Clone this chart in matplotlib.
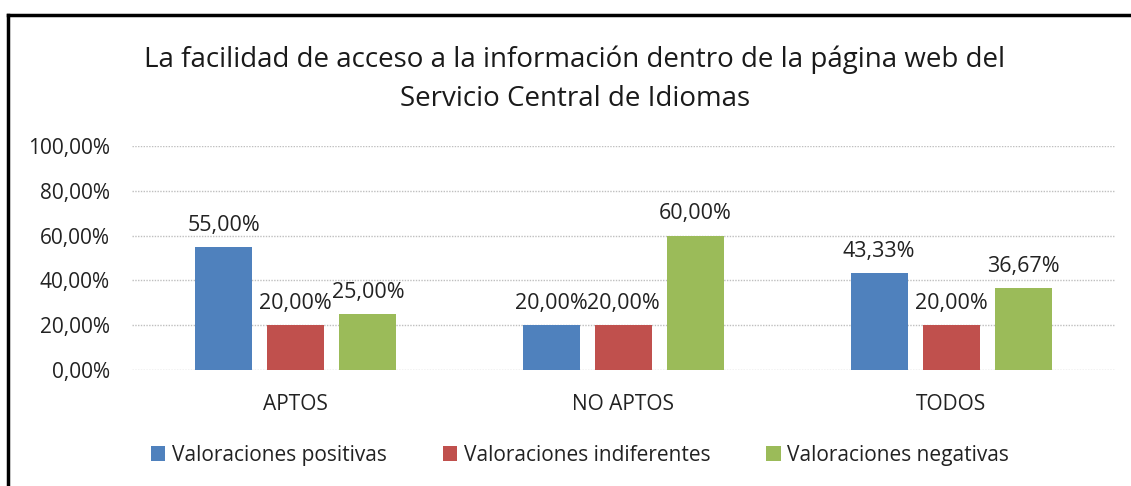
import numpy as np
import matplotlib.pyplot as plt
from matplotlib.lines import Line2D
from matplotlib.ticker import FuncFormatter

plt.rcParams['font.family'] = ['Open Sans', 'DejaVu Sans']

# Data
categorias = ['APTOS', 'NO APTOS', 'TODOS']
series = ['Valoraciones positivas', 'Valoraciones indiferentes', 'Valoraciones negativas']
positivas = [0.55, 0.20, 0.4333]
indiferentes = [0.20, 0.20, 0.20]
negativas = [0.25, 0.60, 0.3667]
colores = ['#4F81BD', '#C0504D', '#9BBB59']

titulo = 'La facilidad de acceso a la información dentro de la página web del\nServicio Central de Idiomas'

fig = plt.figure(figsize=(11.31, 4.86), dpi=100)
ax = fig.add_axes([132 / 1131, 1 - 370 / 486, (1115 - 132) / 1131, (370 - 146) / 486])

x = np.arange(len(categorias))
ancho = 0.174
paso = 0.22
valores = [positivas, indiferentes, negativas]

for i, (vals, col, nom) in enumerate(zip(valores, colores, series)):
    barras = ax.bar(x + (i - 1) * paso, vals, ancho, color=col, label=nom, zorder=2)
    for b, v in zip(barras, vals):
        etiqueta = f'{v * 100:.2f}%'.replace('.', ',')
        ax.annotate(etiqueta, (b.get_x() + b.get_width() / 2, v),
                    xytext=(0, 8), textcoords='offset points',
                    ha='center', va='bottom', fontsize=15.5, color='#222222')

ax.set_xlim(-0.5, 2.5)
ax.set_ylim(0, 1)
ax.set_yticks(np.arange(0, 1.01, 0.2))
ax.yaxis.set_major_formatter(FuncFormatter(lambda v, p: f'{v * 100:.2f}%'.replace('.', ',')))
ax.set_xticks(x)
ax.set_xticklabels(categorias)
ax.tick_params(length=0, labelsize=15, colors='#222222')
ax.tick_params(axis='y', pad=16)
ax.tick_params(axis='x', pad=17)
ax.grid(axis='y', color='#BFBFBF', linestyle=(0, (1, 1)), linewidth=1, zorder=0)
for s in ax.spines.values():
    s.set_visible(False)

fig.text(575 / 1131, 1 - 79 / 486, titulo, ha='center', va='center',
         fontsize=20, color='#1a1a1a', linespacing=1.5)

fig.legend(loc='center', bbox_to_anchor=(580 / 1131, 1 - 455 / 486), ncol=3,
           frameon=False, fontsize=15, handlelength=0.7, handleheight=0.7,
           handletextpad=0.3, columnspacing=2.7, labelcolor='#222222')

# marco superior e izquierdo
fig.add_artist(Line2D([8 / 1131, 1], [1 - 15 / 486, 1 - 15 / 486], color='black', linewidth=2.5))
fig.add_artist(Line2D([8 / 1131, 8 / 1131], [0, 1 - 15 / 486], color='black', linewidth=2.5))

fig.savefig('out.png', dpi=100)
